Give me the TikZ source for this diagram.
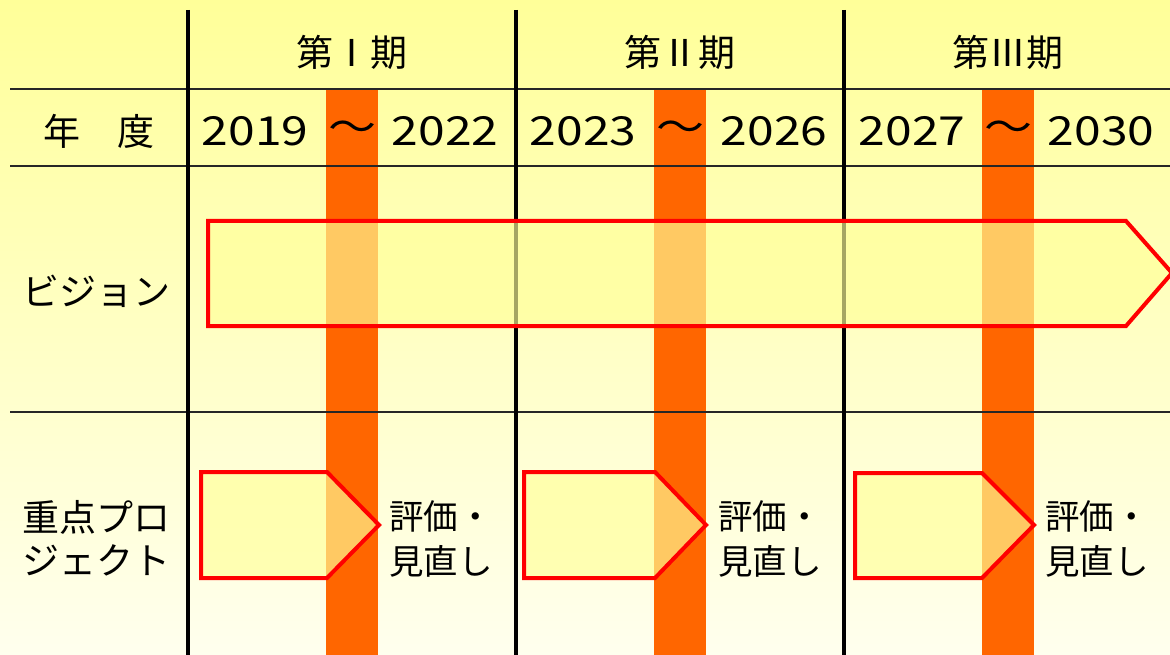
\documentclass[tikz,border=0pt]{standalone}
\usepackage{fontspec}
\newfontfamily\jp{Noto Sans CJK JP}
\definecolor{bgtop}{HTML}{FFFF99}
\definecolor{bgbot}{HTML}{FFFFEE}
\definecolor{barorange}{HTML}{FF6600}
\definecolor{arrred}{HTML}{FF0000}
\definecolor{arrfill}{HTML}{FFFF99}
\begin{document}
\begin{tikzpicture}[x=1pt,y=-1pt,
  gridline/.style={line width=1.6pt, black!85},
  divider/.style={line width=4pt, black},
  band/.style={fill=barorange, draw=none},
  arrowbox/.style={draw=arrred, line width=4pt, fill=arrfill, fill opacity=0.65, line join=miter},
  hdr/.style={font=\jp\fontsize{37}{40}\selectfont, inner sep=0pt, anchor=center},
  yr/.style={font=\jp\fontsize{40}{44}\selectfont, inner sep=0pt, anchor=center, xscale=1.2},
  lbl/.style={font=\jp\fontsize{37}{40}\selectfont, inner sep=0pt, anchor=center},
  note/.style={font=\jp\fontsize{34.5}{38}\selectfont, inner sep=0pt, anchor=center}]
\useasboundingbox (0,0) rectangle (1170,655);
\shade[top color=bgtop, bottom color=bgbot] (0,0) rectangle (1170,655);
% orange evaluation bands
\fill[band] (326,89) rectangle (378,655);
\fill[band] (654,89) rectangle (706,655);
\fill[band] (982,89) rectangle (1034,655);
% grid
\draw[gridline] (10,89) -- (1170,89);
\draw[gridline] (10,166) -- (1170,166);
\draw[gridline] (10,412) -- (1170,412);
\draw[divider] (188,10) -- (188,655);
\draw[divider] (516,10) -- (516,655);
\draw[divider] (844,10) -- (844,655);
% vision arrow
\draw[arrowbox] (208,221) -- (1126,221) -- (1172,273) -- (1126,326) -- (208,326) -- cycle;
% project arrows
\draw[arrowbox] (201,472) -- (327,472) -- (379,525) -- (327,578) -- (201,578) -- cycle;
\draw[arrowbox] (524,472) -- (655,472) -- (706,525) -- (655,578) -- (524,578) -- cycle;
\draw[arrowbox] (855,473) -- (982,473) -- (1034,525) -- (982,578) -- (855,578) -- cycle;
% headers
\node[hdr] (p1) at (352,52) {第Ⅰ期};
\node[hdr] (p2) at (680,52) {第Ⅱ期};
\node[hdr] (p3) at (1008,52) {第Ⅲ期};
% year row
\node[lbl] (nendo) at (99,131) {年　度};
\node[yr] (y1a) at (255,131) {2019};
\node[yr] (t1) at (352,131) {～};
\node[yr] (y1b) at (445,131) {2022};
\node[yr] (y2a) at (583,131) {2023};
\node[yr] (t2) at (680,131) {～};
\node[yr] (y2b) at (774,131) {2026};
\node[yr] (y3a) at (912,131) {2027};
\node[yr] (t3) at (1008,131) {～};
\node[yr] (y3b) at (1101,131) {2030};
% row labels
\node[lbl] (vision) at (97,291) {ビジョン};
\node[lbl] (proj1) at (97,517) {重点プロ};
\node[lbl] (proj2) at (97,560) {ジェクト};
% evaluation notes
\node[note] (e1a) at (441,516) {評価・};
\node[note] (e1b) at (441,561) {見直し};
\node[note] (e2a) at (770,516) {評価・};
\node[note] (e2b) at (770,561) {見直し};
\node[note] (e3a) at (1097,516) {評価・};
\node[note] (e3b) at (1097,561) {見直し};
\end{tikzpicture}
\end{document}
